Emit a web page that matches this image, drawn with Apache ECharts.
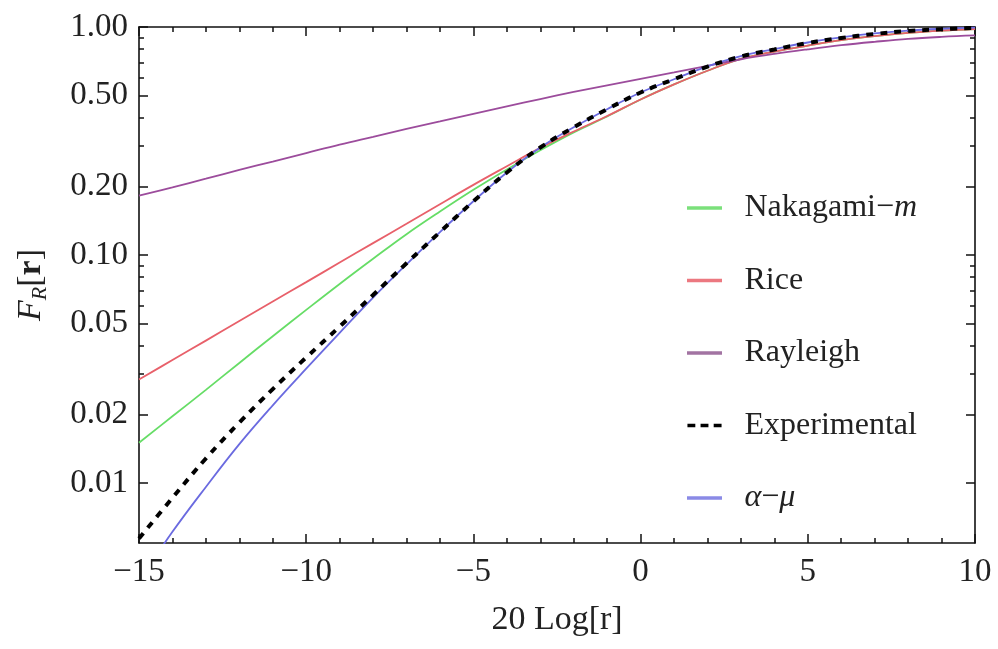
<!DOCTYPE html>
<html>
<head>
<meta charset="utf-8">
<title>F_R[r]</title>
<script src="https://cdn.jsdelivr.net/npm/echarts@6/dist/echarts.min.js"></script>
<style>
    html, body { margin: 0; padding: 0; background: #fff; }
    #ec1 { width: 998px; height: 649px; }
</style>
</head>
<body>
<div id="ec1"></div>
<script>
// 20 Log[r] (dB)
var xDb = [-15, -14, -13, -12, -11, -10, -9, -8, -7, -6, -5, -4, -3, -2, -1, 0, 1, 2, 3, 4, 5, 6, 7, 8, 9, 10];

// F_R[r]
var nakagami = [0.0150, 0.0196, 0.0256, 0.0336, 0.0440, 0.0574, 0.0746, 0.0962, 0.1233, 0.155, 0.193, 0.237, 0.288, 0.345, 0.405, 0.481, 0.560, 0.643, 0.724, 0.780, 0.828, 0.875, 0.912, 0.942, 0.964, 0.980];
var rice = [0.0284, 0.0346, 0.0421, 0.0513, 0.0625, 0.0760, 0.0926, 0.1127, 0.137, 0.167, 0.203, 0.245, 0.295, 0.348, 0.407, 0.481, 0.560, 0.643, 0.724, 0.780, 0.828, 0.875, 0.912, 0.942, 0.964, 0.980];
var rayleigh = [0.182, 0.198, 0.216, 0.236, 0.257, 0.280, 0.305, 0.330, 0.357, 0.385, 0.416, 0.449, 0.483, 0.519, 0.555, 0.592, 0.632, 0.676, 0.722, 0.762, 0.798, 0.832, 0.861, 0.887, 0.905, 0.918];
var experimental = [0.0057, 0.0086, 0.0128, 0.0184, 0.0258, 0.0355, 0.0485, 0.0667, 0.092, 0.126, 0.172, 0.230, 0.296, 0.363, 0.436, 0.516, 0.590, 0.670, 0.742, 0.797, 0.851, 0.895, 0.932, 0.960, 0.978, 0.990];
var alphaMu = [0.0037, 0.0061, 0.0096, 0.0148, 0.0219, 0.0317, 0.0455, 0.0650, 0.091, 0.126, 0.172, 0.230, 0.296, 0.363, 0.436, 0.516, 0.590, 0.672, 0.745, 0.800, 0.855, 0.900, 0.937, 0.965, 0.982, 0.993];

// tick marks
var yMajor = [0.01, 0.02, 0.05, 0.1, 0.2, 0.5, 1];
var yMinor = [0.03, 0.04, 0.06, 0.07, 0.08, 0.09, 0.3, 0.4, 0.6, 0.7, 0.8, 0.9];

var font = '"Liberation Serif", "DejaVu Serif", serif';

function pairs(ys) {
    return xDb.map(function (x, i) { return [x, ys[i]]; });
}

var myChart1 = echarts.init(document.getElementById('ec1'));

function yAx(pos, ticks, len, withLabel, withLine) {
    return {
        type: 'log',
        logBase: 10,
        min: 0.00545,
        max: 1,
        position: pos,
        axisLine: { show: withLine, onZero: false, lineStyle: { color: '#111', width: 1.6 } },
        axisTick: { show: true, inside: true, length: len, customValues: ticks, lineStyle: { color: '#111', width: 1.5 } },
        axisLabel: {
            show: withLabel,
            customValues: withLabel ? ticks : [],
            margin: 11,
            color: '#222',
            fontFamily: font,
            fontSize: 33,
            formatter: function (v) { return v.toFixed(2); }
        },
        splitLine: { show: false },
        minorTick: { show: false }
    };
}

function xAx(pos, withLabel) {
    return {
        type: 'value',
        min: -15,
        max: 10,
        interval: 5,
        position: pos,
        axisLine: { show: true, onZero: false, lineStyle: { color: '#111', width: 1.6 } },
        axisTick: { show: true, inside: true, length: 9, lineStyle: { color: '#111', width: 1.5 } },
        minorTick: { show: true, splitNumber: 5, length: 5, lineStyle: { color: '#111', width: 1.5 } },
        axisLabel: {
            show: withLabel,
            margin: 13,
            color: '#222',
            fontFamily: font,
            fontSize: 33,
            formatter: function (v) { return String(v).replace('-', '\u2212'); }
        },
        splitLine: { show: false }
    };
}

var xBottom = xAx('bottom', true);
xBottom.name = '20 Log[r]';
xBottom.nameLocation = 'middle';
xBottom.nameGap = 60;
xBottom.nameTextStyle = { color: '#222', fontFamily: font, fontSize: 34 };

var yLeft = yAx('left', yMajor, 9, true, true);
yLeft.name = '{f|F}{s|R}{t|[}{b|r}{t|]}';
yLeft.nameLocation = 'middle';
yLeft.nameRotate = 90;
yLeft.nameGap = 88;
yLeft.nameTextStyle = {
    color: '#222',
    rich: {
        f: { fontFamily: font, fontSize: 34, fontStyle: 'italic', lineHeight: 40, color: '#222' },
        s: { fontFamily: font, fontSize: 22, fontStyle: 'italic', verticalAlign: 'bottom', lineHeight: 40, color: '#222' },
        t: { fontFamily: font, fontSize: 34, lineHeight: 40, color: '#222' },
        b: { fontFamily: font, fontSize: 34, fontWeight: 'bold', lineHeight: 40, color: '#222' }
    }
};

var legendRich = {
    t: { fontFamily: font, fontSize: 32, lineHeight: 34, color: '#222' },
    i: { fontFamily: font, fontSize: 32, lineHeight: 34, color: '#222', fontStyle: 'italic' }
};

var solidIcon = 'path://M0,0h40v4h-40z';
var dashIcon = 'path://M0,0h9v4h-9z M15,0h9v4h-9z M30,0h9v4h-9z';

var option = {
    animation: false,
    backgroundColor: '#fff',
    grid: { left: 139, right: 23, top: 27, bottom: 106, containLabel: false },
    legend: {
        orient: 'vertical',
        left: 687,
        top: 192,
        itemWidth: 40,
        itemHeight: 3.5,
        itemGap: 40.5,
        padding: 0,
        data: [
            { name: 'Nakagami-m', icon: solidIcon },
            { name: 'Rice', icon: solidIcon },
            { name: 'Rayleigh', icon: solidIcon },
            { name: 'Experimental', icon: dashIcon },
            { name: 'alpha-mu', icon: solidIcon }
        ],
        textStyle: { fontFamily: font, fontSize: 32, color: '#222', padding: [0, 0, 0, 15], rich: legendRich },
        formatter: function (name) {
            if (name === 'Nakagami-m') return '{t|Nakagami\u2212}{i|m}';
            if (name === 'alpha-mu') return '{i|\u03b1}{t|\u2212}{i|\u03bc}';
            return '{t|' + name + '}';
        }
    },
    xAxis: [xBottom, xAx('top', false)],
    yAxis: [
        yLeft,
        yAx('left', yMinor, 5, false, false),
        yAx('right', yMajor, 9, false, true),
        yAx('right', yMinor, 5, false, false)
    ],
    series: [
        {
            name: 'Nakagami-m', type: 'line', smooth: 0.4, showSymbol: false, symbol: 'none', clip: true,
            lineStyle: { color: '#66dd66', width: 1.8 }, itemStyle: { color: '#7be07b' },
            data: pairs(nakagami)
        },
        {
            name: 'Rice', type: 'line', smooth: 0.4, showSymbol: false, symbol: 'none', clip: true,
            lineStyle: { color: '#e8606a', width: 1.8 }, itemStyle: { color: '#ec7880' },
            data: pairs(rice)
        },
        {
            name: 'Rayleigh', type: 'line', smooth: 0.4, showSymbol: false, symbol: 'none', clip: true,
            lineStyle: { color: '#9c4c9c', width: 1.8 }, itemStyle: { color: '#a273a2' },
            data: pairs(rayleigh)
        },
        {
            name: 'alpha-mu', type: 'line', smooth: 0.4, showSymbol: false, symbol: 'none', clip: true,
            lineStyle: { color: '#6a6ae0', width: 1.8 }, itemStyle: { color: '#8a8ae6' },
            data: pairs(alphaMu)
        },
        {
            name: 'Experimental', type: 'line', smooth: 0.4, showSymbol: false, symbol: 'none', clip: true,
            lineStyle: { color: '#000', width: 4, type: [7, 7] }, itemStyle: { color: '#000' },
            data: pairs(experimental)
        }
    ]
};
myChart1.setOption(option);
</script>
</body>
</html>
